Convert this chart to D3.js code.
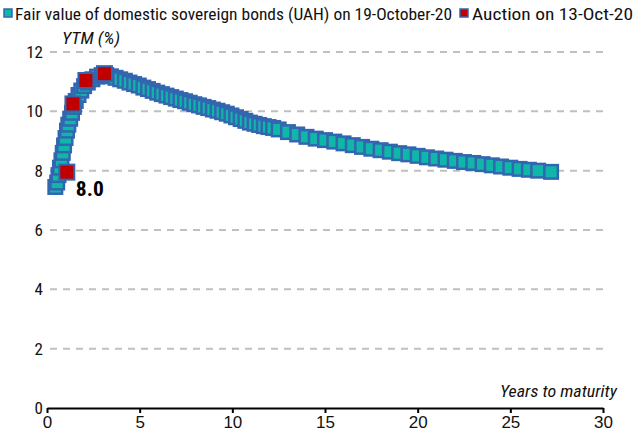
<!DOCTYPE html>
<html><head><meta charset="utf-8">
<script src="https://cdn.jsdelivr.net/npm/d3@7"></script>
<style>
body{margin:0;background:#fff;}
svg{display:block;}
text{font-family:"Liberation Sans Narrow","Arial Narrow","Roboto Condensed","Liberation Sans",sans-serif;}
</style></head><body>
<svg id="c" width="643" height="436"></svg>
<script>
const fairYears = [0.45,0.55,0.62,0.7,0.78,0.85,0.92,1.0,1.08,1.15,1.25,1.35,1.45,1.55,1.7,1.85,2.0,2.2,2.45,2.7,2.95,3.2,3.45,3.7,3.95,4.2,4.45,4.7,4.95,5.2,5.45,5.7,5.95,6.2,6.45,6.7,6.95,7.2,7.45,7.7,7.95,8.2,8.45,8.7,8.95,9.2,9.45,9.7,9.95,10.2,10.45,10.7,10.95,11.2,11.45,11.7,11.95,12.2,12.5,13.0,13.5,14.0,14.5,15.0,15.5,16.0,16.5,17.0,17.5,18.0,18.5,19.0,19.5,20.0,20.5,21.0,21.5,22.0,22.5,23.0,23.5,24.0,24.5,25.0,25.5,26.0,26.5,27.2];
const fairYields = [7.45,7.6,7.85,8.1,8.35,8.6,8.85,9.1,9.35,9.55,9.75,9.95,10.15,10.35,10.55,10.7,10.85,10.97,11.08,11.17,11.22,11.22,11.18,11.13,11.08,11.03,10.97,10.92,10.87,10.8,10.75,10.69,10.63,10.58,10.53,10.48,10.43,10.38,10.34,10.29,10.24,10.2,10.15,10.11,10.06,10.02,9.97,9.92,9.86,9.8,9.74,9.68,9.62,9.58,9.54,9.5,9.47,9.44,9.39,9.3,9.22,9.14,9.08,9.03,8.98,8.92,8.86,8.8,8.74,8.69,8.64,8.59,8.55,8.5,8.45,8.41,8.37,8.33,8.29,8.26,8.22,8.18,8.14,8.1,8.06,8.03,8.0,7.96];
const auctionYears = [1.07,1.4,2.1,3.1];
const auctionYields = [7.95,10.25,11.04,11.27];
const xTicks = [0,5,10,15,20,25,30];
const yTicks = [0,2,4,6,8,10,12];
const legendLabels = ["Fair value of domestic sovereign bonds (UAH) on 19-October-20","Auction on 13-Oct-20"];
const annotation = "8.0";

const svg = d3.select("#c");
const x = d3.scaleLinear().domain([0,30]).range([47,603]);
const y = d3.scaleLinear().domain([0,12]).range([408,52]);
const FONT = '"Liberation Sans Narrow","Arial Narrow",sans-serif';

// gridlines
svg.append("g").selectAll("line").data(yTicks.filter(d=>d>0)).join("line")
  .attr("x1",50).attr("x2",605).attr("y1",d=>y(d)).attr("y2",d=>y(d))
  .attr("stroke","#c0c0c0").attr("stroke-width",2).attr("stroke-dasharray","7,6");

// y labels
svg.append("g").selectAll("text").data(yTicks).join("text")
  .attr("x",43).attr("y",d=>y(d)).attr("dy","0.36em").attr("text-anchor","end")
  .attr("font-size",17).attr("fill","#111").text(d=>d);

// x axis
const xa = svg.append("g").attr("transform","translate(0,"+y(0)+")")
  .call(d3.axisBottom(x).tickValues(xTicks).tickSize(5).tickPadding(3).tickSizeOuter(0));
xa.select(".domain").attr("stroke","#000").attr("stroke-width",2.2);
xa.selectAll(".tick line").attr("stroke","#000").attr("stroke-width",2);
xa.selectAll(".tick text").attr("font-size",17).attr("fill","#111").style("font-family",FONT);

// axis titles
svg.append("text").attr("x",62).attr("y",44).attr("font-size",17).attr("font-style","italic").attr("fill","#111")
  .attr("textLength",58).attr("lengthAdjust","spacingAndGlyphs").text("YTM (%)");
svg.append("text").attr("x",500).attr("y",397).attr("font-size",17).attr("font-style","italic").attr("fill","#111")
  .attr("textLength",117).attr("lengthAdjust","spacingAndGlyphs").text("Years to maturity");

// markers
const S = 13.5;
svg.append("g").selectAll("rect").data(fairYears.map((d,i)=>[d,fairYields[i]])).join("rect")
  .attr("x",d=>x(d[0])-S/2).attr("y",d=>y(d[1])-S/2).attr("width",S).attr("height",S)
  .attr("fill","#0fb7a9").attr("stroke","#3366b0").attr("stroke-width",2.5);
const R = 15;
svg.append("g").selectAll("rect").data(auctionYears.map((d,i)=>[d,auctionYields[i]])).join("rect")
  .attr("x",d=>x(d[0])-R/2).attr("y",d=>y(d[1])-R/2).attr("width",R).attr("height",R)
  .attr("fill","#c00000").attr("stroke","#3366b0").attr("stroke-width",2);

svg.append("text").attr("x",x(auctionYears[0])+9).attr("y",y(auctionYields[0])+24)
  .attr("font-size",20).attr("font-weight","bold").attr("fill","#000")
  .attr("textLength",28).attr("lengthAdjust","spacingAndGlyphs").text(annotation);

// legend
const lg = svg.append("g");
lg.append("rect").attr("x",4).attr("y",9).attr("width",8).attr("height",8).attr("fill","#0fb7a9").attr("stroke","#3366b0").attr("stroke-width",1.5);
lg.append("text").attr("x",15).attr("y",20).attr("font-size",17).attr("fill","#111")
  .attr("textLength",437).attr("lengthAdjust","spacingAndGlyphs").text(legendLabels[0]);
lg.append("rect").attr("x",460).attr("y",9).attr("width",8).attr("height",8).attr("fill","#c00000").attr("stroke","#3366b0").attr("stroke-width",1.5);
lg.append("text").attr("x",472).attr("y",20).attr("font-size",17).attr("fill","#111")
  .attr("textLength",161).attr("lengthAdjust","spacingAndGlyphs").text(legendLabels[1]);
</script></body></html>
